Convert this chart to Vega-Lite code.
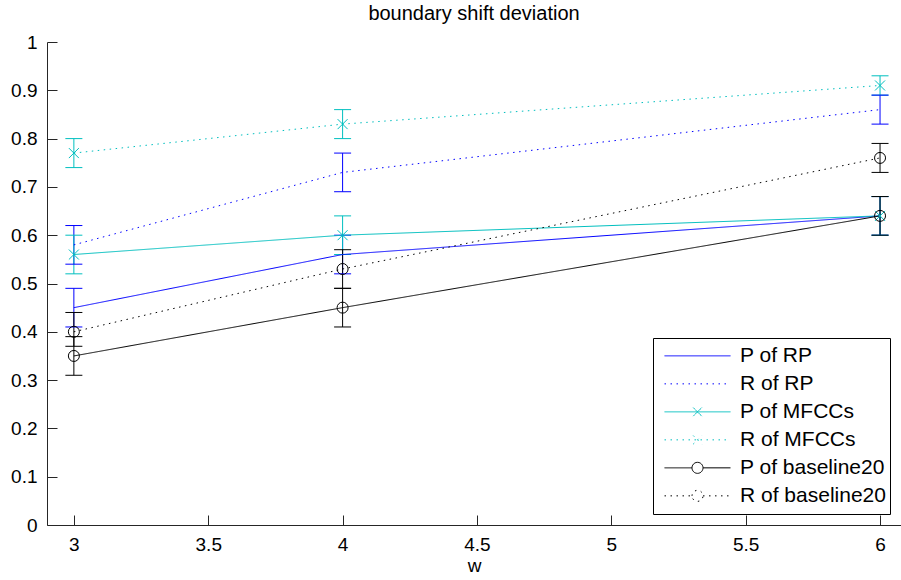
{
  "$schema": "https://vega.github.io/schema/vega-lite/v6.json",
  "width": 854,
  "height": 483,
  "autosize": {"type": "none"},
  "padding": {"left": 47, "top": 42, "right": 0, "bottom": 55},
  "background": "white",
  "title": {"text": "boundary shift deviation", "font": "Liberation Sans", "fontSize": 20, "fontWeight": "normal", "color": "#000000", "offset": 9, "anchor": "middle"},
  "config": {
    "view": {"stroke": null},
    "font": "Liberation Sans",
    "axis": {"grid": false, "domainColor": "#262626", "tickColor": "#262626", "labelColor": "#000000", "titleColor": "#000000", "labelFont": "Liberation Sans", "titleFont": "Liberation Sans", "labelFontSize": 19, "titleFontSize": 19, "titleFontWeight": "normal", "tickSize": -10, "labelPadding": 20, "domainWidth": 1, "tickWidth": 1, "format": "~g"}
  },
  "data": {"values": [
    {"series": "P of RP", "w": 3, "v": 0.45, "lo": 0.41, "hi": 0.49},
    {"series": "P of RP", "w": 4, "v": 0.56, "lo": 0.52, "hi": 0.60},
    {"series": "P of RP", "w": 6, "v": 0.64, "lo": 0.60, "hi": 0.68},
    {"series": "R of RP", "w": 3, "v": 0.58, "lo": 0.54, "hi": 0.62},
    {"series": "R of RP", "w": 4, "v": 0.73, "lo": 0.69, "hi": 0.77},
    {"series": "R of RP", "w": 6, "v": 0.86, "lo": 0.83, "hi": 0.89},
    {"series": "P of MFCCs", "w": 3, "v": 0.56, "lo": 0.52, "hi": 0.60},
    {"series": "P of MFCCs", "w": 4, "v": 0.60, "lo": 0.56, "hi": 0.64},
    {"series": "P of MFCCs", "w": 6, "v": 0.64, "lo": 0.60, "hi": 0.68},
    {"series": "R of MFCCs", "w": 3, "v": 0.77, "lo": 0.74, "hi": 0.80},
    {"series": "R of MFCCs", "w": 4, "v": 0.83, "lo": 0.80, "hi": 0.86},
    {"series": "R of MFCCs", "w": 6, "v": 0.91, "lo": 0.89, "hi": 0.93},
    {"series": "P of baseline20", "w": 3, "v": 0.35, "lo": 0.31, "hi": 0.39},
    {"series": "P of baseline20", "w": 4, "v": 0.45, "lo": 0.41, "hi": 0.49},
    {"series": "P of baseline20", "w": 6, "v": 0.64, "lo": 0.60, "hi": 0.68},
    {"series": "R of baseline20", "w": 3, "v": 0.40, "lo": 0.37, "hi": 0.44},
    {"series": "R of baseline20", "w": 4, "v": 0.53, "lo": 0.49, "hi": 0.57},
    {"series": "R of baseline20", "w": 6, "v": 0.76, "lo": 0.73, "hi": 0.79}
  ]},
  "encoding": {
    "x": {"field": "w", "type": "quantitative", "title": "w", "scale": {"domain": [2.9, 6.078], "nice": false, "zero": false}, "axis": {"values": [3, 3.5, 4, 4.5, 5, 5.5, 6], "titlePadding": 2}},
    "color": {"field": "series", "type": "nominal", "title": null,
      "scale": {"domain": ["P of RP", "R of RP", "P of MFCCs", "R of MFCCs", "P of baseline20", "R of baseline20"], "range": ["#0000ff", "#0000ff", "#00bfbf", "#00bfbf", "#000000", "#000000"]},
      "legend": {"orient": "bottom-right", "offset": 11, "strokeColor": "#000000", "fillColor": "#ffffff", "padding": 4, "symbolSize": 4356, "symbolStrokeWidth": 1, "symbolOpacity": 1, "symbolFillColor": "transparent", "symbolOffset": 7, "clipHeight": 27.7, "labelFont": "Liberation Sans", "labelFontSize": 21, "labelColor": "#000000", "labelOffset": 9, "rowPadding": 0, "labelLimit": 300}}
  },
  "layer": [
    {
      "mark": {"type": "point", "filled": false, "opacity": 0},
      "encoding": {
        "y": {"field": "v", "type": "quantitative", "scale": {"domain": [0, 1], "nice": false}, "axis": {"values": [0, 0.1, 0.2, 0.3, 0.4, 0.5, 0.6, 0.7, 0.8, 0.9, 1], "title": null}},
        "shape": {"field": "series", "type": "nominal", "title": null,
          "scale": {"domain": ["P of RP", "R of RP", "P of MFCCs", "R of MFCCs", "P of baseline20", "R of baseline20"],
            "range": ["M-1,0L1,0", "M-1,0L1,0",
              "M-1,0L1,0M-0.13,-0.13L0.13,0.13M-0.13,0.13L0.13,-0.13", "M-1,0L1,0M-0.13,-0.13L0.13,0.13M-0.13,0.13L0.13,-0.13",
              "M-1,0L-0.167,0M0.167,0L1,0M-0.167,0A0.167,0.167 0 1,1 0.167,0A0.167,0.167 0 1,1 -0.167,0", "M-1,0L-0.167,0M0.167,0L1,0M-0.167,0A0.167,0.167 0 1,1 0.167,0A0.167,0.167 0 1,1 -0.167,0"]}},
        "strokeDash": {"field": "series", "type": "nominal", "title": null,
          "scale": {"domain": ["P of RP", "R of RP", "P of MFCCs", "R of MFCCs", "P of baseline20", "R of baseline20"], "range": [[1, 0], [1.5, 4.5], [1, 0], [1.5, 4.5], [1, 0], [1.5, 4.5]]}}
      }
    },
    {
      "mark": {"type": "rule", "strokeWidth": 1},
      "encoding": {
        "y": {"field": "lo", "type": "quantitative"},
        "y2": {"field": "hi"}
      }
    },
    {
      "mark": {"type": "point", "filled": false, "shape": "M-1,0L1,0", "size": 289, "strokeWidth": 1, "opacity": 1},
      "encoding": {"y": {"field": "lo", "type": "quantitative"}}
    },
    {
      "mark": {"type": "point", "filled": false, "shape": "M-1,0L1,0", "size": 289, "strokeWidth": 1, "opacity": 1},
      "encoding": {"y": {"field": "hi", "type": "quantitative"}}
    },
    {
      "mark": {"type": "line", "strokeWidth": 1},
      "encoding": {
        "y": {"field": "v", "type": "quantitative"},
        "strokeDash": {"field": "series", "type": "nominal", "title": null}
      }
    },
    {
      "transform": [{"filter": {"field": "series", "oneOf": ["P of MFCCs", "R of MFCCs"]}}],
      "mark": {"type": "point", "filled": false, "shape": "M-1,-1L1,1M-1,1L1,-1", "size": 100, "strokeWidth": 1, "opacity": 1},
      "encoding": {"y": {"field": "v", "type": "quantitative"}}
    },
    {
      "transform": [{"filter": {"field": "series", "oneOf": ["P of baseline20", "R of baseline20"]}}],
      "mark": {"type": "point", "filled": false, "shape": "circle", "size": 121, "strokeWidth": 1, "opacity": 1},
      "encoding": {"y": {"field": "v", "type": "quantitative"}}
    }
  ]
}
